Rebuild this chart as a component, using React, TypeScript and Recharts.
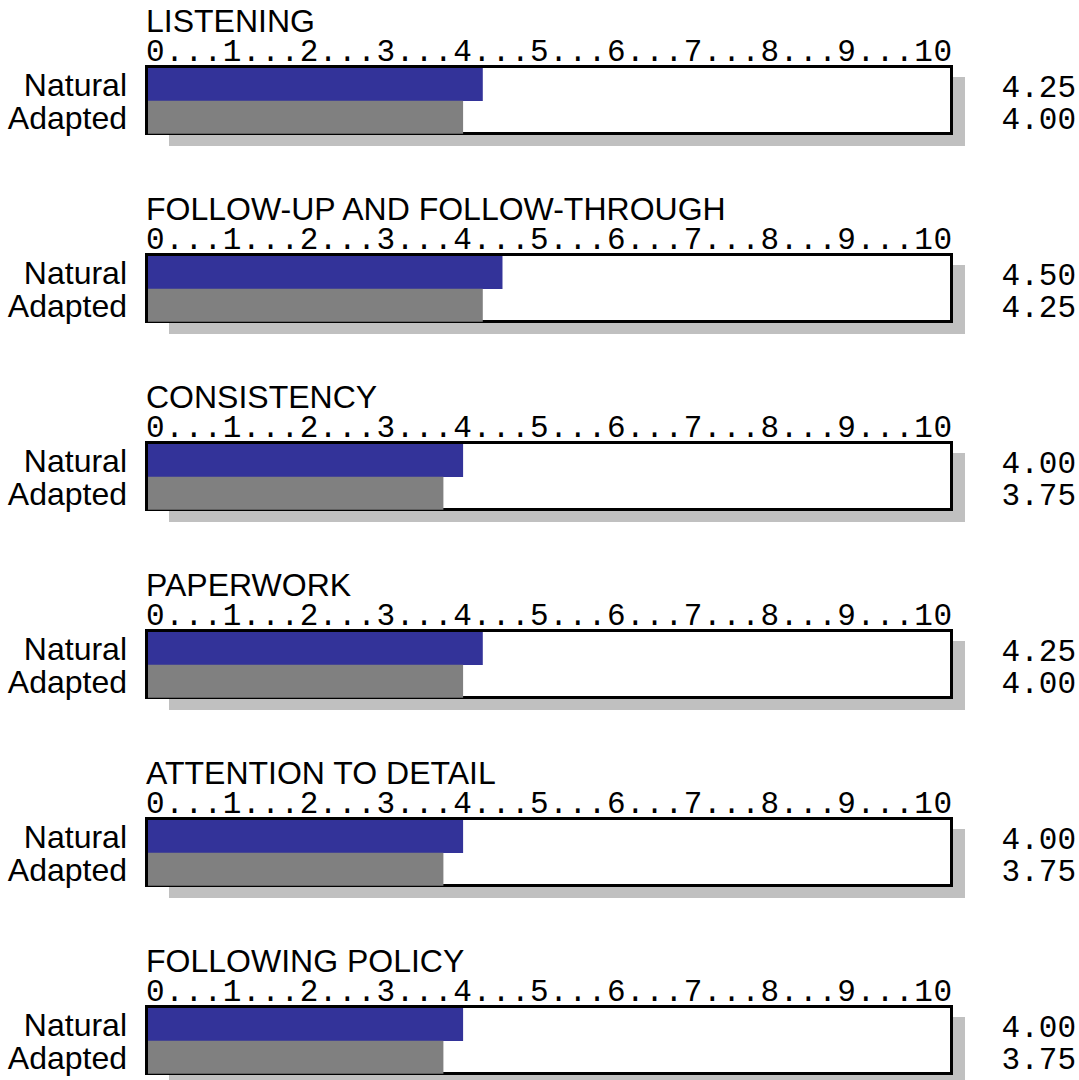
import { BarChart, Bar, XAxis, YAxis, Cell, LabelList } from "recharts";

// Scores per behaviour, natural vs adapted style
const TITLES = [
    "LISTENING",
    "FOLLOW-UP AND FOLLOW-THROUGH",
    "CONSISTENCY",
    "PAPERWORK",
    "ATTENTION TO DETAIL",
    "FOLLOWING POLICY",
];
const NATURAL = [4.25, 4.5, 4.0, 4.25, 4.0, 4.0];
const ADAPTED = [4.0, 4.25, 3.75, 4.0, 3.75, 3.75];
const SERIES = ["Natural", "Adapted"];
const SCALE_TICKS = [0, 1, 2, 3, 4, 5, 6, 7, 8, 9, 10];

const COLORS = ["#333399", "#808080"];
const SANS = "'Liberation Sans', Arial, sans-serif";
const MONO = "'Liberation Mono', 'Courier New', monospace";

// panel geometry
const W = 1079;
const H = 188;
const PLOT_LEFT = 148;
const PLOT_RIGHT = 951.5;
const PLOT_TOP = 68;
const PLOT_BOTTOM = 133.5;
const BORDER = 3;

function SeriesTick(props: any) {
    const { x, y, payload } = props;
    return (
        <text x={x} y={y} dy={12} textAnchor="end" fontFamily={SANS} fontSize={32} fill="#000">
            {payload.value}
        </text>
    );
}

function ValueLabel(props: any) {
    const { y, height, value } = props;
    return (
        <text x={W - 3} y={y + height / 2} dy={12} textAnchor="end" fontFamily={MONO} fontSize={31} fill="#000">
            {Number(value).toFixed(2)}
        </text>
    );
}

function Panel({ index }: { index: number }) {
    const data = SERIES.map((name, i) => ({
        name,
        value: i === 0 ? NATURAL[index] : ADAPTED[index],
    }));
    const scale = SCALE_TICKS.join("...");

    return (
        <div style={{ position: "relative", width: W, height: H }}>
            <svg width={W} height={H} style={{ position: "absolute", left: 0, top: 0 }}>
                {/* drop shadow */}
                <rect
                    x={PLOT_LEFT + 21}
                    y={PLOT_TOP + 9}
                    width={PLOT_RIGHT + 13.5 - (PLOT_LEFT + 21)}
                    height={PLOT_BOTTOM + 12.5 - (PLOT_TOP + 9)}
                    fill="#c0c0c0"
                />
                {/* frame */}
                <rect
                    x={PLOT_LEFT - BORDER / 2}
                    y={PLOT_TOP - BORDER / 2}
                    width={PLOT_RIGHT - PLOT_LEFT + BORDER / 2}
                    height={PLOT_BOTTOM - PLOT_TOP + BORDER / 2}
                    fill="#fff"
                    stroke="#000"
                    strokeWidth={BORDER}
                />
                <text x={146} y={31.5} fontFamily={SANS} fontSize={32} fill="#000">
                    {TITLES[index]}
                </text>
                <text
                    x={146}
                    y={61}
                    fontFamily={MONO}
                    fontSize={31}
                    fill="#000"
                    textLength={806}
                    lengthAdjust="spacing"
                >
                    {scale}
                </text>
            </svg>
            <div style={{ position: "absolute", left: 0, top: 0 }}>
                <BarChart
                    width={W}
                    height={H}
                    data={data}
                    layout="vertical"
                    barCategoryGap={0}
                    margin={{ top: PLOT_TOP, right: W - PLOT_RIGHT, bottom: H - PLOT_BOTTOM, left: 0 }}
                >
                    <XAxis type="number" domain={[0, 10.2]} hide />
                    <YAxis
                        type="category"
                        dataKey="name"
                        width={PLOT_LEFT}
                        axisLine={false}
                        tickLine={false}
                        tickSize={0}
                        tickMargin={21}
                        tick={<SeriesTick />}
                    />
                    <Bar dataKey="value" isAnimationActive={false}>
                        {data.map((d, i) => (
                            <Cell key={d.name} fill={COLORS[i]} />
                        ))}
                        <LabelList dataKey="value" content={<ValueLabel />} />
                    </Bar>
                </BarChart>
            </div>
        </div>
    );
}

export default function App() {
    return (
        <div style={{ width: W, background: "#fff" }}>
            <style>{"body{margin:0}"}</style>
            {TITLES.map((t, i) => (
                <Panel key={t} index={i} />
            ))}
        </div>
    );
}
